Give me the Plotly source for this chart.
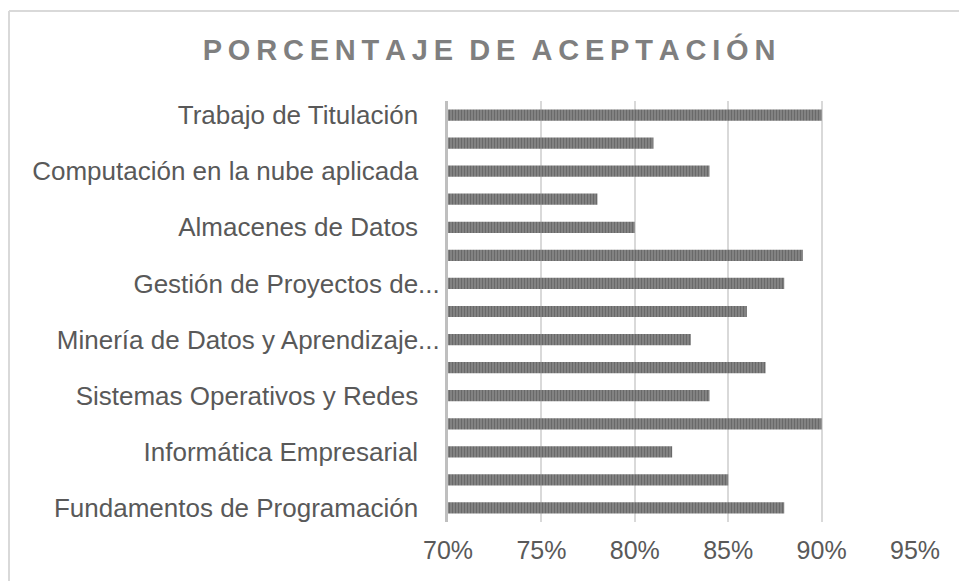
import plotly.graph_objects as go

# Acceptance percentage per course, listed from bottom to top
values = [88, 85, 82, 90, 84, 87, 83, 86, 88, 89, 80, 78, 84, 81, 90]
positions = list(range(len(values)))

# Only every other course name is printed on the axis
label_positions = [0, 2, 4, 6, 8, 10, 12, 14]
label_texts = [
    "Fundamentos de Programación",
    "Informática Empresarial",
    "Sistemas Operativos y Redes",
    "Minería de Datos y Aprendizaje...",
    "Gestión de Proyectos de...",
    "Almacenes de Datos",
    "Computación en la nube aplicada",
    "Trabajo de Titulación",
]
x_ticks = [0.70, 0.75, 0.80, 0.85, 0.90, 0.95]
x_tick_text = ["70%", "75%", "80%", "85%", "90%", "95%"]
title_text = "PORCENTAJE DE ACEPTACIÓN"

W, H = 959, 581
ML, MR, MT, MB = 448, 44, 101, 59


def spaced(s):
    """Spread the letters of a title apart, with a wider gap between words."""
    return "\u00a0\u00a0".join("\u2009".join(word) for word in s.split(" "))


def padded(label):
    """Full names sit a little off the axis; truncated ones run up to it."""
    return label if label.endswith("...") else label + "\u00a0" * 3


fig = go.Figure(
    go.Bar(
        x=[v / 100 for v in values],
        y=positions,
        orientation="h",
        width=0.4,
        marker=dict(
            color="#8c8c8c",
            line=dict(width=0),
            pattern=dict(shape="|", fgcolor="#474747", bgcolor="#8a8a8a",
                         size=3, solidity=0.5),
        ),
        hoverinfo="skip",
    )
)

font_family = "Liberation Sans, Arial, sans-serif"

fig.update_layout(
    width=W,
    height=H,
    margin=dict(l=ML, r=MR, t=MT, b=MB),
    paper_bgcolor="white",
    plot_bgcolor="white",
    showlegend=False,
    title=dict(
        text=spaced(title_text),
        x=489 / W,
        xref="container",
        xanchor="center",
        y=1 - 50 / H,
        yref="container",
        yanchor="middle",
        font=dict(family=font_family, size=29, color="#7f7f7f", weight="bold"),
    ),
    font=dict(family=font_family, color="#595959"),
)

fig.update_xaxes(
    range=[0.70, 0.95],
    tickvals=x_ticks,
    ticktext=x_tick_text,
    tickfont=dict(size=25, color="#595959"),
    showgrid=True,
    gridcolor="#d9d9d9",
    gridwidth=2,
    zeroline=False,
    showline=False,
    ticks="",
    ticklabelstandoff=11,
)
fig.update_yaxes(
    range=[-0.5, len(values) - 0.5],
    tickvals=label_positions,
    ticktext=[padded(t) for t in label_texts],
    tickfont=dict(size=26, color="#595959"),
    showgrid=False,
    zeroline=False,
    showline=True,
    linecolor="#bfbfbf",
    linewidth=3,
    ticks="",
    ticklabelstandoff=0,
)

# Light frame around the chart (top and left edges)
pw, ph = W - ML - MR, H - MT - MB
fx0 = (9 - ML) / pw
fy_top = (H - MB - 11) / ph
fig.add_shape(type="line", xref="paper", yref="paper",
              x0=fx0, x1=(W - ML + 5) / pw, y0=fy_top, y1=fy_top,
              line=dict(color="#d9d9d9", width=2))
fig.add_shape(type="line", xref="paper", yref="paper",
              x0=fx0, x1=fx0, y0=fy_top, y1=-MB / ph - 0.01,
              line=dict(color="#d9d9d9", width=2))

fig.write_html("out.html")
